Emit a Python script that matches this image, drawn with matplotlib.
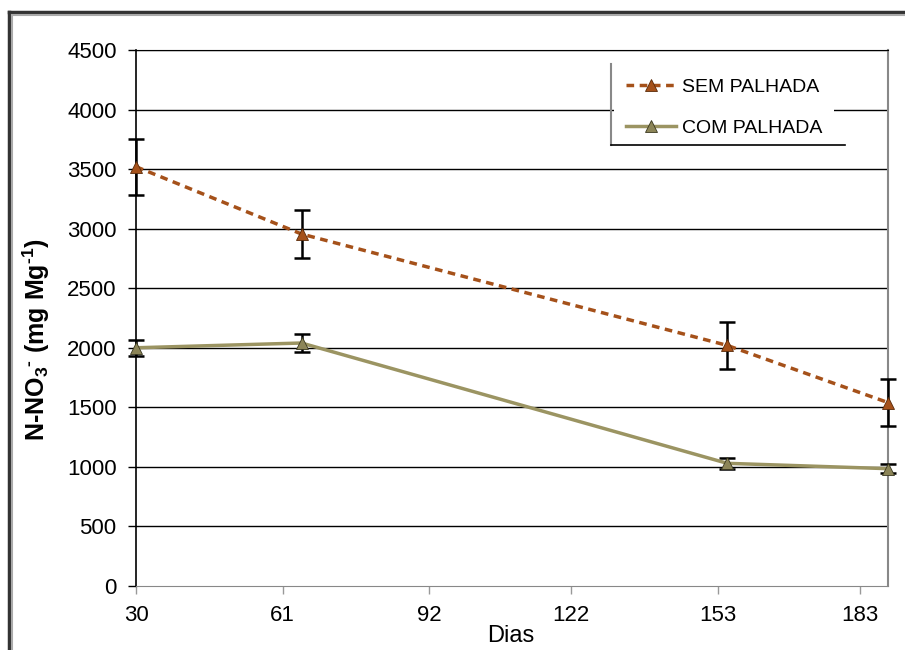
import matplotlib
matplotlib.use("Agg")
import matplotlib.pyplot as plt
from matplotlib.lines import Line2D

plt.rcParams['font.family'] = ['Liberation Sans', 'DejaVu Sans']
plt.rcParams['mathtext.fontset'] = 'custom'
plt.rcParams['mathtext.rm'] = 'Liberation Sans:bold'
plt.rcParams['mathtext.it'] = 'Liberation Sans:bold'
plt.rcParams['mathtext.bf'] = 'Liberation Sans:bold'
plt.rcParams['mathtext.default'] = 'rm'

# ---- data ----
days = [30, 65, 155, 189]
sem_palhada = [3520, 2955, 2020, 1540]
sem_err = [235, 205, 200, 200]
com_palhada = [2000, 2040, 1030, 985]
com_err = [65, 75, 45, 40]
x_ticks = [30, 61, 92, 122, 153, 183]
y_ticks = [0, 500, 1000, 1500, 2000, 2500, 3000, 3500, 4000, 4500]
series_labels = ["SEM PALHADA", "COM PALHADA"]

sem_color = '#A5511A'
com_color = '#9B9462'
com_marker = '#8C8558'

fig = plt.figure(figsize=(9.05, 6.5), dpi=100)
ax = fig.add_axes([136/905, 1-586/650, (888-136)/905, (586-50)/650])

ax.set_xlim(30, 189)
ax.set_ylim(0, 4500)

for y in y_ticks[1:]:
    ax.axhline(y, color='black', lw=1.0, zorder=1)

ax.errorbar(days, sem_palhada, yerr=sem_err, fmt='none', ecolor='black',
            elinewidth=1.8, capsize=6, capthick=1.8, zorder=3, clip_on=False)
ax.errorbar(days, com_palhada, yerr=com_err, fmt='none', ecolor='black',
            elinewidth=1.8, capsize=6, capthick=1.8, zorder=3, clip_on=False)

l1, = ax.plot(days, sem_palhada, color=sem_color, lw=2.5, ls=(0, (2.2, 1.6)),
              marker='^', ms=8, mfc=sem_color, mec='#5a2a08', mew=0.6,
              zorder=4, clip_on=False, label=series_labels[0])
l2, = ax.plot(days, com_palhada, color=com_color, lw=2.5, ls='-',
              marker='^', ms=8, mfc=com_marker, mec='#3a3820', mew=0.6,
              zorder=4, clip_on=False, label=series_labels[1])

ax.set_xticks(x_ticks)
ax.set_yticks(y_ticks)
ax.tick_params(axis='y', direction='out', length=6, width=1, color='black',
               labelsize=16, pad=8)
ax.tick_params(axis='x', direction='out', length=6, width=1, color='#999999',
               labelsize=16, pad=8)

ax.spines['left'].set_color('black')
ax.spines['left'].set_linewidth(1.2)
ax.spines['bottom'].set_color('#888888')
ax.spines['right'].set_color('#888888')
ax.spines['right'].set_linewidth(1.5)
ax.spines['top'].set_color('black')

ax.set_xlabel('Dias', fontsize=17, va='center')
ax.xaxis.set_label_coords((511-136)/752, -(636-586)/536)
ax.set_ylabel('N-NO$_{3}$$^{\u2010}$ (mg Mg$^{\u20101}$)', fontsize=18,
              fontweight='bold', va='center')
ax.yaxis.set_label_coords((36-136)/752, (586-340)/536)

leg = ax.legend(handles=[l1, l2], loc='upper left',
                bbox_to_anchor=((614-136)/752, 1-(67-50)/536),
                frameon=True, fancybox=False, framealpha=1, edgecolor='none',
                fontsize=14, handlelength=2.6, handletextpad=0.3,
                labelspacing=1.2, borderpad=0.6, borderaxespad=0)
leg.set_zorder(6)

# legend left and bottom borders
fig.add_artist(Line2D([611/905, 611/905], [1-64/650, 1-145/650],
                      color='#888888', lw=1.5, transform=fig.transFigure))
fig.add_artist(Line2D([611/905, 845/905], [1-145/650, 1-145/650],
                      color='black', lw=1.2, transform=fig.transFigure))

# outer frame (left and top)
fig.add_artist(Line2D([9/905, 9/905], [0, 1-12/650], color='#333333', lw=2.5,
                      transform=fig.transFigure))
fig.add_artist(Line2D([12/905, 12/905], [0, 1-15/650], color='#aaaaaa', lw=1.5,
                      transform=fig.transFigure))
fig.add_artist(Line2D([9/905, 1], [1-12/650, 1-12/650], color='#333333', lw=2.5,
                      transform=fig.transFigure))
fig.add_artist(Line2D([12/905, 1], [1-15/650, 1-15/650], color='#aaaaaa', lw=1.5,
                      transform=fig.transFigure))

fig.savefig('out.png', dpi=100)
